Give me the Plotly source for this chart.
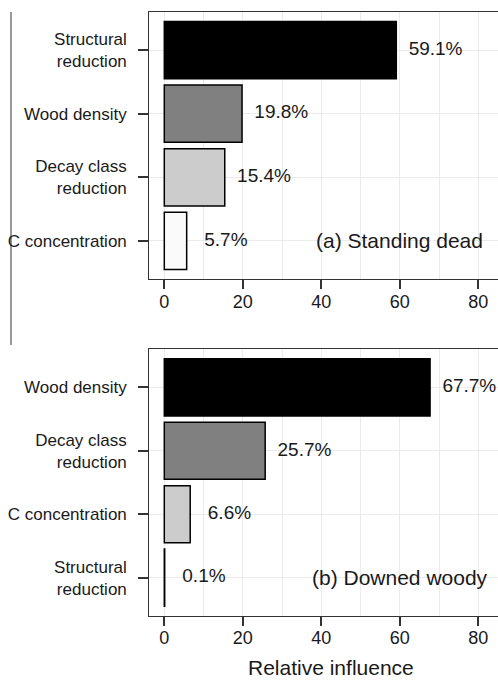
import plotly.graph_objects as go

# Relative influence of each predictor (percent), two panels
cats_a = ["Structural reduction", "Wood density", "Decay class reduction", "C concentration"]
vals_a = [59.1, 19.8, 15.4, 5.7]

cats_b = ["Wood density", "Decay class reduction", "C concentration", "Structural reduction"]
vals_b = [67.7, 25.7, 6.6, 0.1]

# fill by rank within a panel (largest first)
fills = ["#000000", "#808080", "#cccccc", "#fafafa"]

x_ticks = [0, 20, 40, 60, 80]
x_minor = [10, 30, 50, 70]
label_offset = 10

tick_text = {
    "Structural reduction": "Structural<br>reduction",
    "Wood density": "Wood density",
    "Decay class reduction": "Decay class<br>reduction",
    "C concentration": "C concentration",
}

W, H = 498, 681
FONT = "Liberation Sans, Arial, sans-serif"
INK = "#1a1a1a"


def px_x(p):
    return p / W


def px_y(p):
    return 1 - p / H


fig = go.Figure()

for i, (cats, vals) in enumerate([(cats_a, vals_a), (cats_b, vals_b)]):
    xa = "x" if i == 0 else "x2"
    ya = "y" if i == 0 else "y2"
    fig.add_trace(go.Bar(
        x=vals, y=cats, orientation="h", width=0.9,
        marker=dict(color=fills, line=dict(color="#000000", width=1.5)),
        xaxis=xa, yaxis=ya, showlegend=False, hoverinfo="skip",
    ))
    fig.add_trace(go.Scatter(
        x=[v + label_offset for v in vals], y=cats, mode="text",
        text=[f"{v}%" for v in vals], textposition="middle center",
        textfont=dict(family=FONT, size=19, color=INK),
        xaxis=xa, yaxis=ya, showlegend=False, hoverinfo="skip",
    ))

x_common = dict(
    range=[-3.82, 85.0], tickmode="array", tickvals=x_ticks,
    ticks="outside", ticklen=9, tickwidth=1.5, tickcolor="#333333",
    showline=True, linecolor="#333333", linewidth=1.2, mirror=True,
    showgrid=True, gridcolor="#ebebeb", gridwidth=1, zeroline=False,
    minor=dict(tickvals=x_minor, showgrid=True, gridcolor="#ebebeb", gridwidth=0.7, ticks=""),
    tickfont=dict(family=FONT, size=18, color=INK),
    ticklabelstandoff=-3, automargin=False, fixedrange=True,
)


def y_common(cats):
    return dict(
        type="category", categoryorder="array", categoryarray=cats,
        range=[3.6, -0.6], tickmode="array", tickvals=cats,
        ticktext=[tick_text[c] for c in cats],
        ticks="outside", ticklen=10, tickwidth=1.5, tickcolor="#333333",
        showline=True, linecolor="#333333", linewidth=1.2, mirror=False,
        showgrid=True, gridcolor="#ebebeb", gridwidth=1, zeroline=False,
        tickfont=dict(family=FONT, size=17, color=INK),
        ticklabelstandoff=8, automargin=False, fixedrange=True,
    )


fig.update_layout(
    width=W, height=H,
    margin=dict(l=0, r=0, t=0, b=0),
    paper_bgcolor="white", plot_bgcolor="white",
    bargap=0.1,
    xaxis=dict(domain=[px_x(149.3), 1.0], anchor="y", **x_common),
    yaxis=dict(domain=[px_y(279), px_y(12)], anchor="x", **y_common(cats_a)),
    xaxis2=dict(domain=[px_x(149.3), 1.0], anchor="y2", **x_common),
    yaxis2=dict(domain=[px_y(615.7), px_y(349.3)], anchor="x2", **y_common(cats_b)),
    annotations=[
        dict(text="(a) Standing dead", x=60, y=cats_a[-1], xref="x", yref="y",
             showarrow=False, xanchor="center", yanchor="middle",
             font=dict(family=FONT, size=21, color=INK)),
        dict(text="(b) Downed woody", x=60, y=cats_b[-1], xref="x2", yref="y2",
             showarrow=False, xanchor="center", yanchor="middle",
             font=dict(family=FONT, size=21, color=INK)),
        dict(text="Relative influence", x=px_x(330.8), y=px_y(667), xref="paper", yref="paper",
             showarrow=False, xanchor="center", yanchor="middle",
             font=dict(family=FONT, size=21, color=INK)),
    ],
    shapes=[
        dict(type="line", xref="paper", yref="paper",
             x0=px_x(11), x1=px_x(11), y0=px_y(12), y1=px_y(345),
             line=dict(color="#333333", width=1)),
    ],
)

fig.write_html("out.html")
